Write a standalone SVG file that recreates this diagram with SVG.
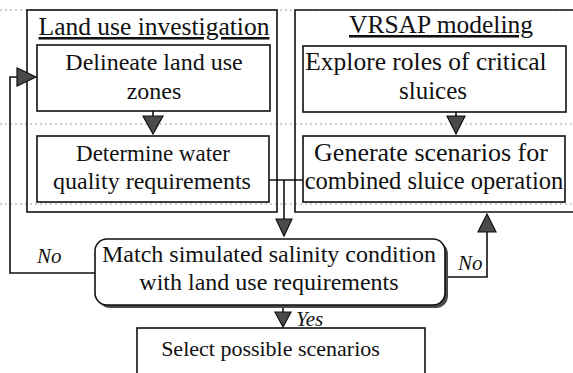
<svg xmlns="http://www.w3.org/2000/svg" width="573" height="373" viewBox="0 0 573 373">
<style>
.bg{fill:#fff}
.box{fill:#fff;stroke:#111;stroke-width:1.6}
.outer{fill:none;stroke:#111;stroke-width:1.6}
.guide{stroke:#a0a0a0;stroke-width:1;stroke-dasharray:2 3;fill:none}
text{font-family:'Liberation Serif','DejaVu Serif',serif;fill:#111}
.t{font-size:24px;text-anchor:middle}
.title{font-size:25.5px;text-anchor:middle;text-decoration:underline}
.lab{font-style:italic;font-size:21px}
.line{fill:none;stroke:#111;stroke-width:1.6}
.head{fill:#4a4a4a;stroke:#111;stroke-width:1.2;stroke-linejoin:miter}
</style>
<rect class="bg" x="0" y="0" width="573" height="373"/>
<g id="guides">
<line class="guide" x1="0" y1="10" x2="573" y2="10"/>
<line class="guide" x1="0" y1="124" x2="573" y2="124"/>
<line class="guide" x1="0" y1="204" x2="573" y2="204"/>
</g>
<g id="land-use-group">
<rect class="outer" x="27" y="10" width="250" height="202"/>
<text class="title" x="154" y="35">Land use investigation</text>
</g>
<g id="vrsap-group">
<path class="outer" d="M576,10 H295 V212 H576"/>
<text class="title" x="441" y="33">VRSAP modeling</text>
</g>
<g id="delineate">
<rect class="box" x="37" y="45" width="233" height="66"/>
<text class="t" x="154" y="70">Delineate land use</text>
<text class="t" x="154" y="99">zones</text>
</g>
<g id="determine">
<rect class="box" x="37" y="136" width="232" height="66"/>
<text class="t" x="153" y="161" style="font-size:23px">Determine water</text>
<text class="t" x="152" y="189">quality requirements</text>
</g>
<g id="explore">
<rect class="box" x="303" y="46" width="263" height="66"/>
<text class="t" x="426" y="70" style="font-size:25.5px">Explore roles of critical</text>
<text class="t" x="433" y="99" style="font-size:25px">sluices</text>
</g>
<g id="generate">
<rect class="box" x="303" y="136" width="262" height="66"/>
<text class="t" x="431" y="161" style="font-size:26px">Generate scenarios for</text>
<text class="t" x="434" y="189" style="font-size:24.5px">combined sluice operation</text>
</g>
<g id="match">
<rect x="98" y="242" width="350" height="66" rx="12" fill="#4a4a4a"/>
<rect class="box" x="95" y="239" width="350" height="66" rx="12"/>
<text class="t" x="269" y="262">Match simulated salinity condition</text>
<text class="t" x="269" y="290">with land use requirements</text>
</g>
<g id="select">
<rect class="box" x="137" y="328" width="288" height="60"/>
<text class="t" x="270.5" y="356" style="font-size:22px">Select possible scenarios</text>
</g>
<g id="connectors">
<line class="line" x1="153" y1="111" x2="153" y2="116"/>
<polygon class="head" points="143,116 163,116 153,134"/>
<line class="line" x1="456" y1="112" x2="456" y2="116"/>
<polygon class="head" points="447,116 465,116 456,134"/>
<line class="line" x1="269" y1="180" x2="303" y2="180"/>
<line class="line" x1="284" y1="180" x2="284" y2="219"/>
<polygon class="head" points="276,219 292,219 284,236"/>
<polyline class="line" points="95,273 10,273 10,77 17,77"/>
<polygon class="head" points="17,68 17,86 36,77"/>
<polyline class="line" points="448,277 487,277 487,232"/>
<polygon class="head" points="478,232 496,232 487,214"/>
<line class="line" x1="283" y1="308" x2="283" y2="312"/>
<polygon class="head" points="275,312 291,312 283,327"/>
<text class="lab" x="37" y="263">No</text>
<text class="lab" x="458" y="270">No</text>
<text class="lab" x="296" y="326">Yes</text>
</g>
</svg>
